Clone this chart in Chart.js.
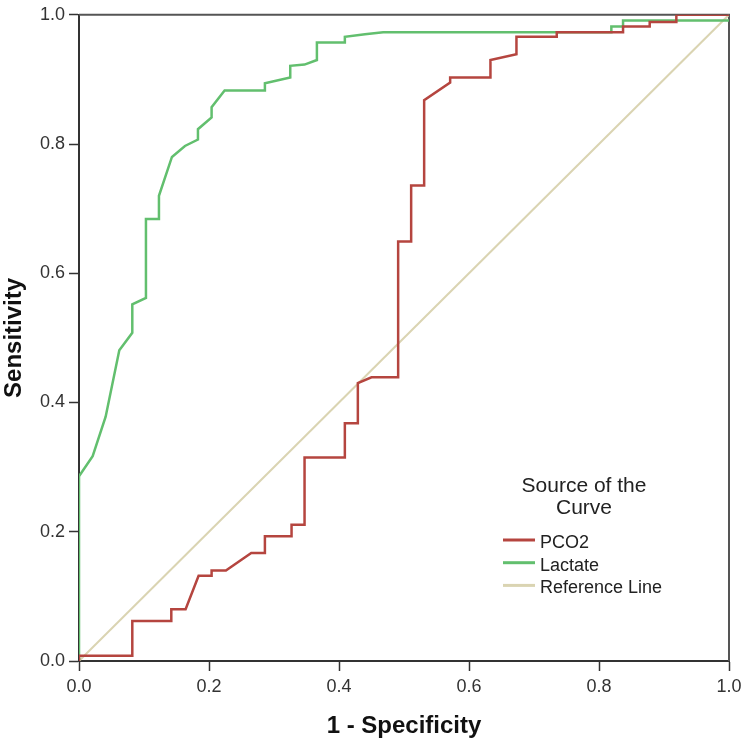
<!DOCTYPE html>
<html>
<head>
<meta charset="utf-8">
<script src="https://cdn.jsdelivr.net/npm/chart.js@4/dist/chart.umd.min.js"></script>
<style>
  html, body { margin: 0; padding: 0; background: #fff; }
  #wrap { width: 750px; height: 746px; position: relative; }
</style>
</head>
<body>
<div id="wrap"><canvas id="roc"></canvas></div>
<script>
// ROC curves (1 - specificity, sensitivity)
const seriesNames = ['PCO2', 'Lactate', 'Reference Line'];

const pco2Fpr = [0, 0, 0.082, 0.082, 0.142, 0.142, 0.164, 0.184, 0.204, 0.204, 0.226, 0.265, 0.286, 0.286,
  0.327, 0.327, 0.347, 0.347, 0.409, 0.409, 0.429, 0.429, 0.45, 0.491, 0.491, 0.511, 0.511, 0.531, 0.531,
  0.571, 0.571, 0.633, 0.633, 0.673, 0.673, 0.735, 0.735, 0.837, 0.837, 0.878, 0.878, 0.919, 0.919, 1.0];
const pco2Tpr = [0, 0.008, 0.008, 0.062, 0.062, 0.08, 0.08, 0.132, 0.132, 0.14, 0.14, 0.167, 0.167, 0.193,
  0.193, 0.211, 0.211, 0.315, 0.315, 0.368, 0.368, 0.43, 0.439, 0.439, 0.649, 0.649, 0.736, 0.736, 0.868,
  0.895, 0.903, 0.903, 0.93, 0.939, 0.966, 0.966, 0.973, 0.973, 0.982, 0.982, 0.989, 0.989, 1.0, 1.0];

const lactateFpr = [0, 0, 0.021, 0.041, 0.062, 0.082, 0.082, 0.103, 0.103, 0.123, 0.123, 0.143, 0.163, 0.183,
  0.183, 0.204, 0.204, 0.224, 0.286, 0.286, 0.325, 0.325, 0.347, 0.366, 0.366, 0.409, 0.409, 0.44, 0.468,
  0.819, 0.819, 0.837, 0.837, 1.0];
const lactateTpr = [0, 0.286, 0.317, 0.378, 0.481, 0.508, 0.552, 0.562, 0.684, 0.684, 0.72, 0.78, 0.797, 0.807,
  0.823, 0.841, 0.857, 0.883, 0.883, 0.894, 0.903, 0.921, 0.923, 0.93, 0.957, 0.957, 0.966, 0.97, 0.973,
  0.973, 0.982, 0.982, 0.991, 0.991];

const refFpr = [0, 1];
const refTpr = [0, 1];

const axisTicks = [0, 0.2, 0.4, 0.6, 0.8, 1.0];

const FONT = "'Liberation Sans', Arial, sans-serif";

function toPoints(xs, ys) {
  return xs.map((x, i) => ({ x: x, y: ys[i] }));
}

// frame on top and right side of the plot
const framePlugin = {
  id: 'frame',
  beforeDatasetsDraw(chart) {
    const { ctx, chartArea: a } = chart;
    ctx.save();
    ctx.strokeStyle = '#555';
    ctx.lineWidth = 2;
    ctx.beginPath();
    ctx.moveTo(a.left, a.top);
    ctx.lineTo(a.right, a.top);
    ctx.lineTo(a.right, a.bottom);
    ctx.stroke();
    ctx.restore();
  }
};

// SPSS style legend inside the plot
const insideLegend = {
  id: 'insideLegend',
  afterDatasetsDraw(chart) {
    const ctx = chart.ctx;
    ctx.save();
    ctx.fillStyle = '#222';
    ctx.textBaseline = 'middle';
    ctx.textAlign = 'center';
    ctx.font = '21px ' + FONT;
    ctx.fillText('Source of the', 584, 486);
    ctx.fillText('Curve', 584, 508);
    ctx.textAlign = 'left';
    ctx.font = '18px ' + FONT;
    chart.data.datasets.forEach((ds, i) => {
      const y = 542 + i * 22.7;
      ctx.strokeStyle = ds.borderColor;
      ctx.lineWidth = 3;
      ctx.beginPath();
      ctx.moveTo(503, y - 2);
      ctx.lineTo(535, y - 2);
      ctx.stroke();
      ctx.fillText(ds.label, 540, y + 1);
    });
    ctx.restore();
  }
};

const axisBase = {
  type: 'linear',
  min: 0,
  max: 1,
  grid: { drawOnChartArea: false, drawTicks: true, tickLength: 10, tickColor: '#333', tickWidth: 1.5 },
  border: { display: true, color: '#333', width: 2 },
  afterBuildTicks(scale) { scale.ticks = axisTicks.map(v => ({ value: v })); }
};

new Chart(document.getElementById('roc'), {
  type: 'scatter',
  data: {
    datasets: [
      { label: seriesNames[0], data: toPoints(pco2Fpr, pco2Tpr), borderColor: '#b5453f', borderWidth: 2.5 },
      { label: seriesNames[1], data: toPoints(lactateFpr, lactateTpr), borderColor: '#62bf6e', borderWidth: 2.5 },
      { label: seriesNames[2], data: toPoints(refFpr, refTpr), borderColor: '#dad4b2', borderWidth: 2 }
    ].map(ds => Object.assign(ds, { showLine: true, pointRadius: 0, tension: 0, fill: false }))
  },
  options: {
    responsive: true,
    maintainAspectRatio: false,
    animation: false,
    layout: { padding: { top: 11, right: 21, left: 0, bottom: 0 } },
    plugins: { legend: { display: false }, tooltip: { enabled: false } },
    scales: {
      x: Object.assign({}, axisBase, {
        ticks: { color: '#333', padding: 5, font: { family: FONT, size: 18 }, callback: v => v.toFixed(1) },
        title: { display: true, text: '1 - Specificity', color: '#111', padding: { top: 0, bottom: 5 },
          font: { family: FONT, size: 24, weight: 'bold' } },
        afterFit(scale) { scale.height = 85; }
      }),
      y: Object.assign({}, axisBase, {
        ticks: { color: '#333', padding: 4, font: { family: FONT, size: 18 }, callback: v => v.toFixed(1) },
        title: { display: true, text: 'Sensitivity', color: '#111', padding: { top: 0, bottom: 0 },
          font: { family: FONT, size: 24, weight: 'bold' } },
        afterFit(scale) { scale.width = 79; }
      })
    }
  },
  plugins: [framePlugin, insideLegend]
});
</script>
</body>
</html>
